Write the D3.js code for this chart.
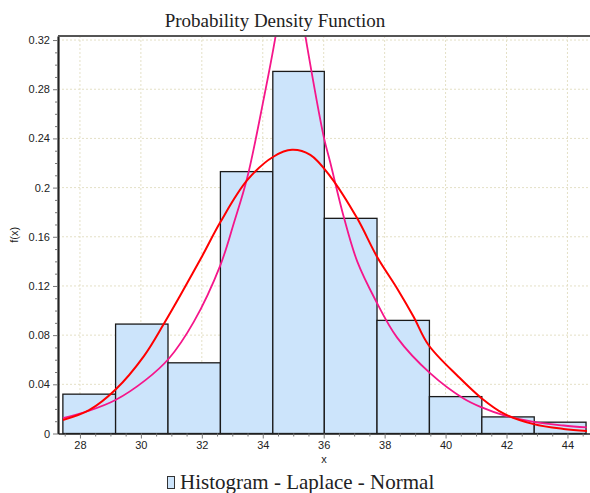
<!DOCTYPE html>
<html>
<head>
<meta charset="utf-8">
<script src="https://cdn.jsdelivr.net/npm/d3@7"></script>
<style>
  body { margin: 0; background: #fff; }
  svg { display: block; }
</style>
</head>
<body>
<div id="chart"></div>
<script>
// histogram bins (edges) and bar heights
var binEdges = [27.44, 29.17, 30.89, 32.61, 34.33, 36.02, 37.75, 39.47, 41.19, 42.91, 44.61];
var barHeights = [0.032, 0.089, 0.0575, 0.213, 0.2945, 0.175, 0.092, 0.030, 0.0135, 0.0092];

// fitted curves, points
var normalX = [27.44, 28.3, 29.17, 30.1, 30.75, 31.3, 32.0, 32.61, 33.49, 34.36, 34.96, 35.56, 36.22, 37.1, 37.75, 38.41, 38.95, 39.44, 40.43, 41.19, 41.9, 42.89, 43.87, 44.64];
var normalY = [0.011, 0.019, 0.0358, 0.063, 0.089, 0.1126, 0.1438, 0.172, 0.206, 0.2253, 0.2307, 0.2266, 0.209, 0.175, 0.1438, 0.118, 0.095, 0.072, 0.046, 0.0285, 0.0163, 0.0076, 0.0037, 0.0021];
var laplaceX = [27.44, 28.3, 29.15, 30.15, 30.92, 31.74, 32.61, 33.05, 33.49, 34.03, 34.42, 34.9, 35.4, 36.0, 36.22, 36.66, 37.1, 37.69, 38.41, 39.5, 40.59, 41.19, 41.9, 42.89, 43.87, 44.64];
var laplaceY = [0.0125, 0.0185, 0.027, 0.0434, 0.061, 0.091, 0.137, 0.171, 0.208, 0.272, 0.323, 0.40, 0.323, 0.2415, 0.22, 0.176, 0.14, 0.109, 0.078, 0.0489, 0.0285, 0.0212, 0.0149, 0.0094, 0.0065, 0.0049];

// axis ticks
var xTicks = [28, 30, 32, 34, 36, 38, 40, 42, 44];
var xTickLabels = ["28", "30", "32", "34", "36", "38", "40", "42", "44"];
var yTicks = [0, 0.04, 0.08, 0.12, 0.16, 0.2, 0.24, 0.28, 0.32];
var yTickLabels = ["0", "0.04", "0.08", "0.12", "0.16", "0.2", "0.24", "0.28", "0.32"];

var svgWidth = 590, svgHeight = 493;
var plot = {left: 58, right: 590, top: 36, bottom: 433.5};

var svg = d3.select("#chart").append("svg")
  .attr("width", svgWidth)
  .attr("height", svgHeight);

var x = d3.scaleLinear().domain([27.28, 44.74]).range([plot.left, plot.right]);
var y = d3.scaleLinear().domain([0, 0.3233]).range([plot.bottom, plot.top]);

svg.append("clipPath").attr("id", "plotclip")
  .append("rect")
  .attr("x", plot.left).attr("y", plot.top)
  .attr("width", plot.right - plot.left).attr("height", plot.bottom - plot.top);

// grid
var grid = svg.append("g");
grid.selectAll("line.v").data(xTicks).enter().append("line")
  .attr("x1", d => x(d)).attr("x2", d => x(d))
  .attr("y1", plot.top).attr("y2", plot.bottom)
  .attr("stroke", "#e4e0c6").attr("stroke-dasharray", "2,2");
grid.selectAll("line.h").data(yTicks.slice(1)).enter().append("line")
  .attr("x1", plot.left).attr("x2", plot.right)
  .attr("y1", d => y(d)).attr("y2", d => y(d))
  .attr("stroke", "#e4e0c6").attr("stroke-dasharray", "2,2");

// bars
var bins = barHeights.map((h, i) => ({x0: binEdges[i], x1: binEdges[i + 1], h: h}));
svg.append("g").selectAll("rect").data(bins).enter().append("rect")
  .attr("x", d => x(d.x0))
  .attr("y", d => y(d.h))
  .attr("width", d => x(d.x1) - x(d.x0))
  .attr("height", d => y(0) - y(d.h))
  .attr("fill", "#cce4fb")
  .attr("stroke", "#1a1a1a")
  .attr("stroke-width", 1.3);

// curves
var line = d3.line().x(d => x(d[0])).y(d => y(d[1])).curve(d3.curveCatmullRom.alpha(0.5));
var curves = svg.append("g").attr("clip-path", "url(#plotclip)");
curves.append("path")
  .datum(laplaceX.map((v, i) => [v, laplaceY[i]]))
  .attr("d", line)
  .attr("fill", "none")
  .attr("stroke", "#f5168a")
  .attr("stroke-width", 1.8);
curves.append("path")
  .datum(normalX.map((v, i) => [v, normalY[i]]))
  .attr("d", line)
  .attr("fill", "none")
  .attr("stroke", "#ff0000")
  .attr("stroke-width", 2);

// axes
var minorX = d3.range(27.5, 44.75, 0.5).filter(v => xTicks.indexOf(v) < 0);
var minorY = d3.range(0, 0.325, 0.01).map(v => +v.toFixed(2)).filter(v => yTicks.indexOf(v) < 0);

var xAxis = svg.append("g")
  .attr("transform", `translate(0, ${plot.bottom})`)
  .call(d3.axisBottom(x).tickValues(xTicks).tickFormat((d, i) => xTickLabels[i]).tickSize(5).tickSizeOuter(0));
svg.append("g")
  .attr("transform", `translate(0, ${plot.bottom})`)
  .call(d3.axisBottom(x).tickValues(minorX).tickFormat("").tickSize(3).tickSizeOuter(0))
  .select(".domain").remove();

var yAxis = svg.append("g")
  .attr("transform", `translate(${plot.left}, 0)`)
  .call(d3.axisLeft(y).tickValues(yTicks).tickFormat((d, i) => yTickLabels[i]).tickSize(5).tickSizeOuter(0));
svg.append("g")
  .attr("transform", `translate(${plot.left}, 0)`)
  .call(d3.axisLeft(y).tickValues(minorY).tickFormat("").tickSize(3).tickSizeOuter(0))
  .select(".domain").remove();

svg.selectAll(".tick line").attr("stroke", "#777");
svg.selectAll(".tick text")
  .attr("font-family", "Liberation Sans, Arial, sans-serif")
  .attr("font-size", 11)
  .attr("fill", "#222");
xAxis.select(".domain").attr("stroke", "#222").attr("stroke-width", 1.5);
yAxis.select(".domain").attr("stroke", "#222").attr("stroke-width", 2.2);

// top border
svg.append("line")
  .attr("x1", plot.left).attr("x2", plot.right)
  .attr("y1", plot.top).attr("y2", plot.top)
  .attr("stroke", "#555").attr("stroke-width", 2);

// axis titles
svg.append("text")
  .attr("transform", `translate(18, ${(plot.top + plot.bottom) / 2}) rotate(-90)`)
  .attr("text-anchor", "middle")
  .attr("font-family", "Liberation Sans, Arial, sans-serif")
  .attr("font-size", 11)
  .attr("fill", "#222")
  .text("f(x)");
svg.append("text")
  .attr("x", (plot.left + plot.right) / 2)
  .attr("y", 463)
  .attr("text-anchor", "middle")
  .attr("font-family", "Liberation Sans, Arial, sans-serif")
  .attr("font-size", 11)
  .attr("fill", "#222")
  .text("x");

// title
svg.append("text")
  .attr("x", 275)
  .attr("y", 27)
  .attr("text-anchor", "middle")
  .attr("font-family", "Liberation Serif, Times New Roman, serif")
  .attr("font-size", 19)
  .attr("fill", "#222")
  .text("Probability Density Function");

// legend
svg.append("rect")
  .attr("x", 167.5).attr("y", 476.5)
  .attr("width", 7).attr("height", 12)
  .attr("fill", "#cce4fb")
  .attr("stroke", "#333");
svg.append("text")
  .attr("x", 180)
  .attr("y", 489)
  .attr("font-family", "Liberation Serif, Times New Roman, serif")
  .attr("font-size", 21)
  .attr("fill", "#222")
  .text("Histogram - Laplace - Normal");
</script>
</body>
</html>
